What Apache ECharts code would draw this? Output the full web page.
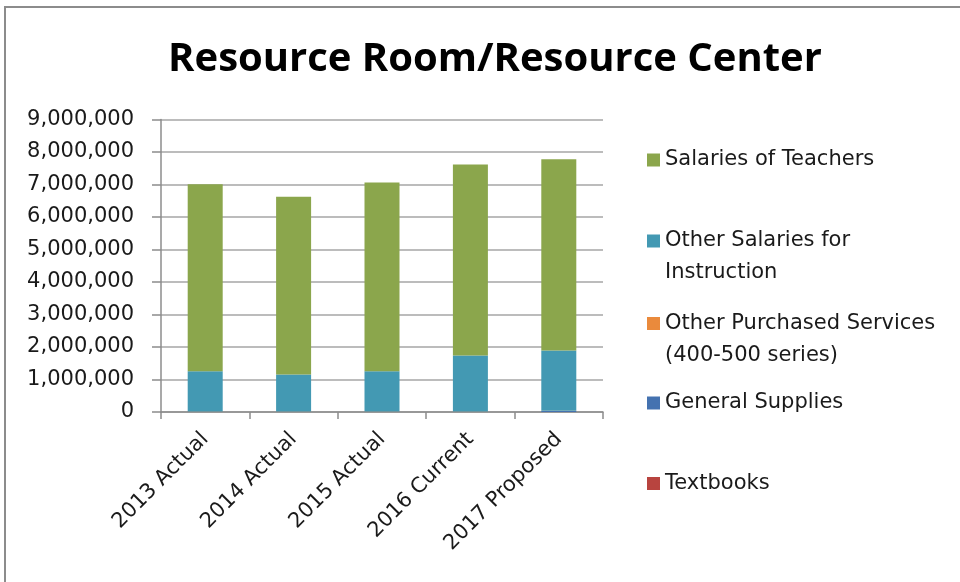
<!DOCTYPE html>
<html>
<head>
<meta charset="utf-8">
<script src="https://cdn.jsdelivr.net/npm/echarts@6/dist/echarts.min.js"></script>
<style>
  html, body { margin: 0; padding: 0; background: #fff; }
  #chart { width: 960px; height: 582px; }
</style>
</head>
<body>
<div id="chart"></div>
<script>
  // values (stacked bottom-up: textbooks ... teachers)
  let categories = ["2013 Actual", "2014 Actual", "2015 Actual", "2016 Current", "2017 Proposed"]
  let teachers = [5750000, 5470000, 5810000, 5880000, 5890000]
  let otherSalaries = [1240000, 1140000, 1240000, 1720000, 1850000]
  let purchased = [4000, 3000, 4000, 5000, 6000]
  let supplies = [8000, 7000, 8000, 9000, 30000]
  let textbooks = [2000, 2000, 2000, 2000, 3000]
  let yTicks = [0, 1000000, 2000000, 3000000, 4000000, 5000000, 6000000, 7000000, 8000000, 9000000]

  let font = "DejaVu Sans"
  let colors = {
    "Salaries of Teachers": "#8ba64c",
    "Other Salaries for Instruction": "#4399b3",
    "Other Purchased Services (400-500 series)": "#ea8a3c",
    "General Supplies": "#4472b0",
    "Textbooks": "#b8443f"
  }
  // two-line names get an empty first line so the marker sits next to the first text line
  let legendText = {
    "Salaries of Teachers": "Salaries of Teachers",
    "Other Salaries for Instruction": " \nOther Salaries for\nInstruction",
    "Other Purchased Services (400-500 series)": " \nOther Purchased Services\n(400-500 series)",
    "General Supplies": "General Supplies",
    "Textbooks": "Textbooks"
  }

  function legendItem(name, top) {
    return {
      data: [name],
      left: 647,
      top: top,
      padding: 0,
      orient: "vertical",
      icon: "rect",
      itemWidth: 13,
      itemHeight: 13,
      selectedMode: false,
      formatter: n => legendText[n],
      textStyle: {
        fontFamily: font,
        fontSize: 21,
        color: "#1a1a1a",
        lineHeight: 32
      }
    }
  }

  function barSeries(name, data) {
    return {
      name: name,
      type: "bar",
      stack: "total",
      barWidth: 35,
      itemStyle: { color: colors[name] },
      data: data
    }
  }

  let myChart = echarts.init(document.getElementById("chart"))
  myChart.setOption({
    animation: false,
    title: {
      text: "Resource Room/Resource Center",
      left: 490,
      textAlign: "center",
      top: 35,
      textStyle: {
        fontFamily: "Open Sans",
        fontWeight: "bold",
        fontSize: 40,
        color: "#000"
      }
    },
    graphic: [{
      type: "rect",
      shape: { x: 5, y: 7, width: 1000, height: 700 },
      style: { fill: "none", stroke: "#8c8c8c", lineWidth: 2 },
      silent: true
    }],
    legend: [
      legendItem("Salaries of Teachers", 144),
      legendItem("Other Salaries for Instruction", 193),
      legendItem("Other Purchased Services (400-500 series)", 275.5),
      legendItem("General Supplies", 387),
      legendItem("Textbooks", 467.5)
    ],
    grid: {
      left: 161,
      right: 357,
      top: 119.5,
      bottom: 170
    },
    xAxis: {
      type: "category",
      data: categories,
      axisLine: { lineStyle: { color: "#8c8c8c", width: 1.5 } },
      axisTick: { show: true, length: 7, lineStyle: { color: "#8c8c8c", width: 1.5 } },
      axisLabel: {
        rotate: 45,
        align: "right",
        verticalAlign: "middle",
        margin: 24,
        fontFamily: font,
        fontSize: 21,
        color: "#1a1a1a"
      }
    },
    yAxis: {
      type: "value",
      min: yTicks[0],
      max: yTicks[yTicks.length - 1],
      interval: 1000000,
      axisLine: { show: true, lineStyle: { color: "#8c8c8c", width: 1.5 } },
      axisTick: { show: true, length: 9, lineStyle: { color: "#8c8c8c", width: 1.5 } },
      splitLine: { lineStyle: { color: "#a6a6a6", width: 1.5 } },
      axisLabel: {
        margin: 27,
        fontFamily: font,
        fontSize: 21,
        color: "#1a1a1a",
        formatter: v => v.toLocaleString("en-US")
      }
    },
    series: [
      barSeries("Textbooks", textbooks),
      barSeries("General Supplies", supplies),
      barSeries("Other Purchased Services (400-500 series)", purchased),
      barSeries("Other Salaries for Instruction", otherSalaries),
      barSeries("Salaries of Teachers", teachers)
    ]
  })
</script>
</body>
</html>
